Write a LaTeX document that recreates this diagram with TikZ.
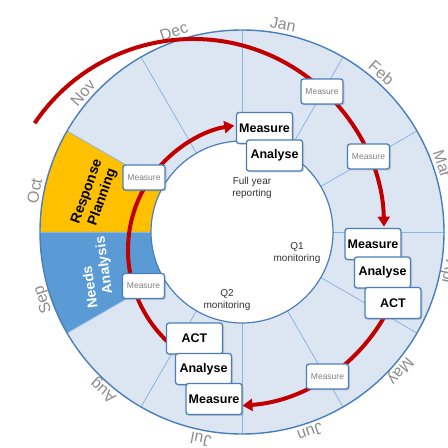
\documentclass[tikz,border=0pt]{standalone}
\usepackage{fontspec}
\setmainfont{Liberation Sans}
\usetikzlibrary{arrows.meta,shadows}
\definecolor{ringfill}{HTML}{DCE6F2}
\definecolor{ringline}{HTML}{4A7EBB}
\definecolor{divline}{HTML}{8DB4E2}
\definecolor{octfill}{HTML}{FFC000}
\definecolor{sepfill}{HTML}{5B9BD5}
\definecolor{redc}{HTML}{C00000}
\definecolor{monthc}{HTML}{8C8C8C}
\definecolor{smallt}{HTML}{7F7F7F}
\definecolor{innert}{HTML}{333333}
\begin{document}
\begin{tikzpicture}[x=1pt,y=1pt,
  boxbase/.style={draw=ringline, line width=1.3pt, fill=white, rounded corners=2.5pt, inner sep=0pt,
    drop shadow={shadow xshift=1.5pt, shadow yshift=-1.5pt, opacity=0.3}},
  bigbox/.style={boxbase, minimum width=56pt, minimum height=31pt, font=\fontsize{12.5}{15}\selectfont\bfseries},
  smallbox/.style={boxbase, minimum width=42pt, minimum height=25pt, font=\fontsize{8.5}{10}\selectfont, text=smallt},
  month/.style={font=\fontsize{16}{18}\selectfont, text=monthc, anchor=base, inner sep=0pt},
  segtext/.style={font=\fontsize{14}{16.6}\selectfont\bfseries, inner sep=0pt},
  innertext/.style={font=\fontsize{10}{12.5}\selectfont, text=innert, align=center, inner sep=0pt},
  redarc/.style={draw=redc, line width=4pt},
  redtip/.style={-{Triangle[length=10pt,width=12pt]}}
]
\useasboundingbox (0,0) rectangle (448,448);
\clip (0,0) rectangle (448,448);
\coordinate (O) at (242,216);
% ring
\fill[ringfill] (O) circle (202);
\fill[octfill] (O) -- ++(150:202) arc[start angle=150, end angle=180, radius=202] -- cycle;
\fill[sepfill] (O) -- ++(180:202) arc[start angle=180, end angle=210, radius=202] -- cycle;
\foreach \a in {0,30,...,330} \draw[divline, line width=0.8pt] (O) -- ++(\a:202);
\draw[ringline, line width=1.2pt, fill=white] (O) circle (91);
\draw[ringline, line width=1.4pt] (O) circle (202);
% month labels
\foreach \m [count=\i from 0] in {Jan,Feb,Mar,Apr,May,Jun,Jul,Aug,Sep,Oct,Nov,Dec}{
  \pgfmathsetmacro{\ang}{78.8-30*\i}
  \node[month, rotate=\ang-90] (month\i) at ([shift={(\ang:206)}]O) {\m};
}
% segment texts
\node[segtext, rotate=70, align=center] (resp) at (95,253.5) {Response\\Planning};
\node[segtext, rotate=98, text=white, align=left] (needs) at (97.3,175.8) {Needs\\\hspace*{12pt}Analysis};
% inner texts
\node[innertext] (fy) at (252,260) {Full year\\reporting};
\node[innertext] (q1) at (297,195) {Q1\\monitoring};
\node[innertext] (q2) at (227,148) {Q2\\monitoring};
% red arcs
\coordinate (ra) at ([shift={(146:191)}]193,218);
\coordinate (rb) at ([shift={(230:126)}]254,198);
\coordinate (rc) at ([shift={(336:178)}]230,220);
\draw[redarc, redtip] (ra) arc[start angle=146, end angle=1, radius=191];
\draw[redarc, redtip] (rb) arc[start angle=230, end angle=99, radius=126];
\draw[redarc, redtip] (rc) arc[start angle=336, end angle=274, radius=178];
% small boxes
\node[smallbox] (s1) at (144,270.5) {Measure};
\node[smallbox] (s2) at (143.5,162) {Measure};
\node[smallbox] (s3) at (322,356.5) {Measure};
\node[smallbox] (s4) at (368.5,291.5) {Measure};
\node[smallbox] (s5) at (327.5,71.5) {Measure};
% big boxes
\node[bigbox] (m1) at (264.5,320) {Measure};
\node[bigbox] (a1) at (274.5,292.5) {Analyse};
\node[bigbox] (m2) at (373,204) {Measure};
\node[bigbox] (a2) at (382.5,175.5) {Analyse};
\node[bigbox] (c2) at (393,145) {ACT};
\node[bigbox] (c3) at (194.5,109.5) {ACT};
\node[bigbox] (a3) at (203.5,79) {Analyse};
\node[bigbox] (m3) at (214,49) {Measure};
\end{tikzpicture}
\end{document}
